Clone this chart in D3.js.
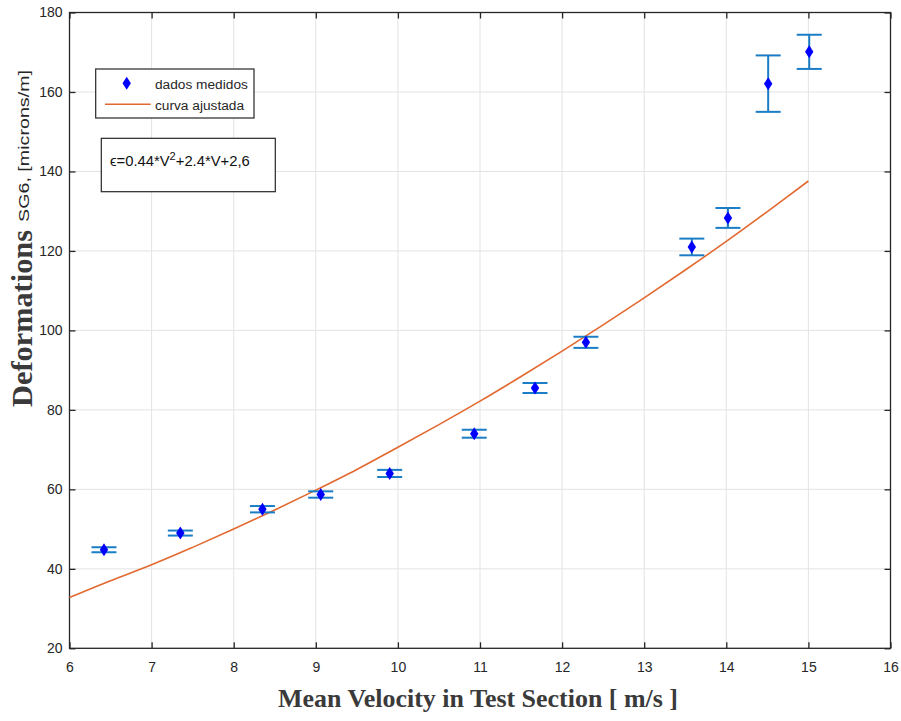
<!DOCTYPE html>
<html>
<head>
<meta charset="utf-8">
<script src="https://cdn.jsdelivr.net/npm/d3@7"></script>
<style>
  html, body { margin: 0; padding: 0; background: #fff; }
  svg { display: block; }
  text { font-family: "Liberation Sans", Arial, sans-serif; }
</style>
</head>
<body>
<svg id="chart" width="901" height="721"></svg>
<script>
// measured points (mean velocity, deformation, half error)
const velocity = [6.42, 7.35, 8.35, 9.06, 9.90, 10.93, 11.67, 12.29, 13.58, 14.02, 14.51, 15.01];
const deformation = [44.8, 49.0, 55.0, 58.7, 64.0, 74.0, 85.5, 97.0, 121.0, 128.3, 162.1, 170.1];
const errHalf = [0.63, 0.63, 0.8, 0.8, 0.9, 1.0, 1.26, 1.4, 2.1, 2.5, 7.1, 4.3];

// fitted curve
const fitV = [6, 6.5, 7, 7.5, 8, 8.5, 9, 9.5, 10, 10.5, 11, 11.5, 12, 12.5, 13, 13.5, 14, 14.5, 15];
const fitE = [32.8, 37.0, 41.0, 45.4, 50.0, 54.8, 59.8, 65.0, 70.6, 76.3, 82.2, 88.4, 94.8, 101.4, 108.2, 115.2, 122.4, 129.9, 137.6];

const xTicks = [6, 7, 8, 9, 10, 11, 12, 13, 14, 15, 16];
const yTicks = [20, 40, 60, 80, 100, 120, 140, 160, 180];

const svg = d3.select('#chart');
const mLeft = 69.5, mRight = 890.5, mTop = 12.5, mBottom = 648.3;

const x = d3.scaleLinear().domain([6, 16]).range([mLeft, mRight]);
const y = d3.scaleLinear().domain([20, 180]).range([mBottom, mTop]);

const axisColor = '#262626';

// grid
const grid = svg.append('g');
grid.selectAll('line.gx').data(xTicks.slice(1, -1)).enter().append('line')
    .attr('x1', d => x(d)).attr('x2', d => x(d))
    .attr('y1', mTop).attr('y2', mBottom)
    .attr('stroke', '#e3e3e3').attr('stroke-width', 1);
grid.selectAll('line.gy').data(yTicks.slice(1, -1)).enter().append('line')
    .attr('y1', d => y(d)).attr('y2', d => y(d))
    .attr('x1', mLeft).attr('x2', mRight)
    .attr('stroke', '#e3e3e3').attr('stroke-width', 1);

// axes with inward ticks on all four sides
const tickLen = 6;
const fmt = d3.format('d');
svg.append('g').attr('transform', `translate(0,${mBottom})`)
    .call(d3.axisBottom(x).tickValues(xTicks).tickSizeInner(-tickLen).tickSizeOuter(0).tickPadding(14).tickFormat(fmt));
svg.append('g').attr('transform', `translate(0,${mTop})`)
    .call(d3.axisTop(x).tickValues(xTicks).tickSizeInner(-tickLen).tickSizeOuter(0).tickFormat(''));
svg.append('g').attr('transform', `translate(${mLeft},0)`)
    .call(d3.axisLeft(y).tickValues(yTicks).tickSizeInner(-tickLen).tickSizeOuter(0).tickPadding(7).tickFormat(fmt));
svg.append('g').attr('transform', `translate(${mRight},0)`)
    .call(d3.axisRight(y).tickValues(yTicks).tickSizeInner(-tickLen).tickSizeOuter(0).tickFormat(''));

svg.selectAll('.domain').remove();
svg.selectAll('.tick line').attr('stroke', axisColor).attr('stroke-width', 1.3);
svg.selectAll('.tick text')
    .attr('fill', axisColor)
    .style('font-family', '"Liberation Sans", Arial, sans-serif')
    .style('font-size', '14px');

// box
svg.append('rect')
    .attr('x', mLeft).attr('y', mTop)
    .attr('width', mRight - mLeft).attr('height', mBottom - mTop)
    .attr('fill', 'none').attr('stroke', axisColor).attr('stroke-width', 1.3);

// fitted curve
const line = d3.line()
    .x(d => x(d[0]))
    .y(d => y(d[1]))
    .curve(d3.curveCatmullRom);
svg.append('path')
    .datum(fitV.map((v, i) => [v, fitE[i]]))
    .attr('d', line)
    .attr('fill', 'none')
    .attr('stroke', '#E2692F')
    .attr('stroke-width', 1.6);

// error bars
const errColor = '#1A7DC6';
const capHalf = 12.5;
const pts = velocity.map((v, i) => ({v: v, e: deformation[i], h: errHalf[i]}));
const eb = svg.append('g').attr('stroke', errColor).attr('stroke-width', 2);
eb.selectAll('line.stem').data(pts).enter().append('line')
    .attr('x1', d => x(d.v)).attr('x2', d => x(d.v))
    .attr('y1', d => y(d.e + d.h)).attr('y2', d => y(d.e - d.h));
eb.selectAll('line.capt').data(pts).enter().append('line')
    .attr('x1', d => x(d.v) - capHalf).attr('x2', d => x(d.v) + capHalf)
    .attr('y1', d => y(d.e + d.h)).attr('y2', d => y(d.e + d.h));
eb.selectAll('line.capb').data(pts).enter().append('line')
    .attr('x1', d => x(d.v) - capHalf).attr('x2', d => x(d.v) + capHalf)
    .attr('y1', d => y(d.e - d.h)).attr('y2', d => y(d.e - d.h));

// diamond markers
const diamond = 'M0,-6.5L4.2,0L0,6.5L-4.2,0Z';
svg.append('g').selectAll('path').data(pts).enter().append('path')
    .attr('d', diamond)
    .attr('transform', d => `translate(${x(d.v)},${y(d.e)})`)
    .attr('fill', '#0000FF');

// legend
const lg = svg.append('g');
lg.append('rect').attr('x', 95.7).attr('y', 69).attr('width', 158.3).attr('height', 49)
    .attr('fill', '#fff').attr('stroke', axisColor).attr('stroke-width', 1.2);
lg.append('path').attr('d', diamond).attr('transform', 'translate(126.7,83.3)').attr('fill', '#0000FF');
lg.append('line').attr('x1', 105).attr('x2', 150.7).attr('y1', 104.3).attr('y2', 104.3)
    .attr('stroke', '#E2692F').attr('stroke-width', 1.6);
lg.append('text').attr('x', 155).attr('y', 88.5).attr('fill', axisColor)
    .style('font-size', '13.7px').text('dados medidos');
lg.append('text').attr('x', 155).attr('y', 109.5).attr('fill', axisColor)
    .style('font-size', '13.7px').text('curva ajustada');

// equation box
svg.append('rect').attr('x', 101.3).attr('y', 138.3).attr('width', 174).attr('height', 53.4)
    .attr('fill', '#fff').attr('stroke', axisColor).attr('stroke-width', 1.2);
const eq = svg.append('text').attr('x', 110).attr('y', 165.7).attr('fill', '#111')
    .style('font-size', '14.8px');
eq.append('tspan').text('ϵ=0.44*V');
eq.append('tspan').attr('dy', -6).style('font-size', '11px').text('2');
eq.append('tspan').attr('dy', 6).text('+2.4*V+2,6');

// axis titles
svg.append('text')
    .attr('x', 478).attr('y', 707)
    .attr('text-anchor', 'middle')
    .attr('textLength', 400).attr('lengthAdjust', 'spacingAndGlyphs')
    .attr('fill', '#3a3a3a')
    .style('font-family', '"Liberation Serif", "Times New Roman", serif')
    .style('font-weight', 'bold').style('font-size', '26px')
    .text('Mean Velocity in Test Section [ m/s ]');

svg.append('text')
    .attr('transform', 'translate(32,407) rotate(-90)')
    .attr('textLength', 177).attr('lengthAdjust', 'spacingAndGlyphs')
    .attr('fill', '#3a3a3a')
    .style('font-family', '"Liberation Serif", "Times New Roman", serif')
    .style('font-weight', 'bold').style('font-size', '29px')
    .text('Deformations');

svg.append('text')
    .attr('transform', 'translate(29,222) rotate(-90)')
    .attr('textLength', 152).attr('lengthAdjust', 'spacingAndGlyphs')
    .attr('fill', axisColor)
    .style('font-size', '14px')
    .text('SG6, [microns/m]');
</script>
</body>
</html>
